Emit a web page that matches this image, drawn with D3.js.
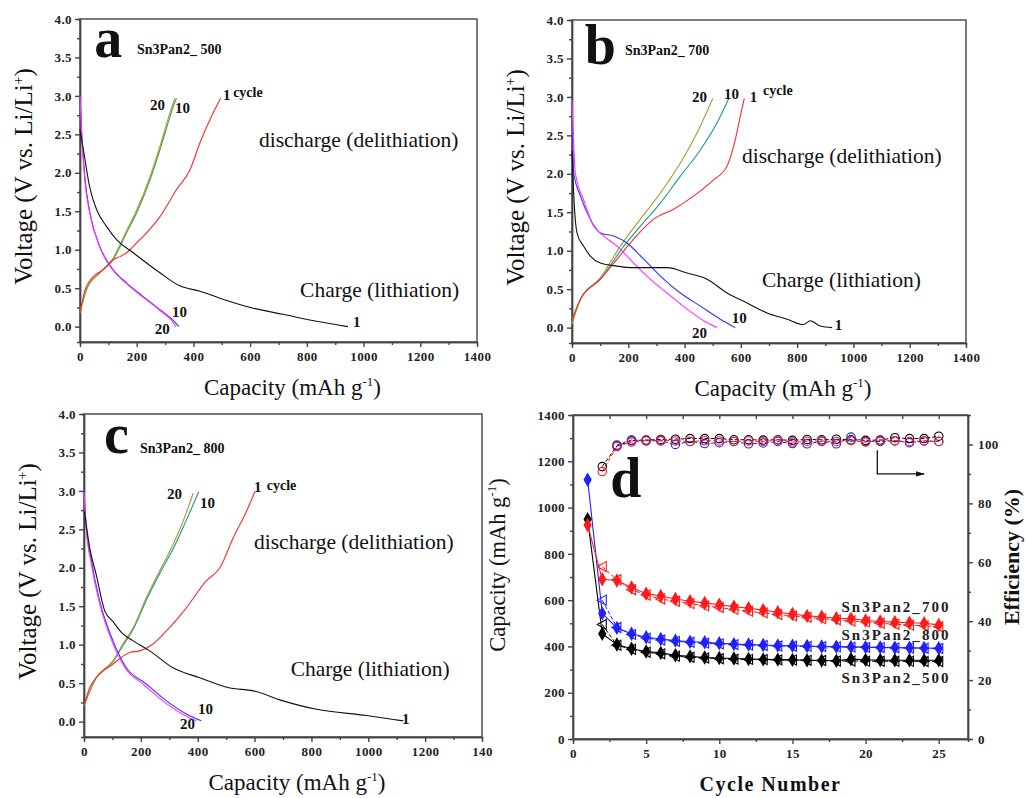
<!DOCTYPE html>
<html>
<head>
<meta charset="utf-8">
<script src="https://cdn.jsdelivr.net/npm/d3@7"></script>
<style>
  body { margin: 0; background: #fff; }
  svg text { font-family: "Liberation Serif", "DejaVu Serif", serif; }
  .tick text { font-weight: bold; font-size: 13px; fill: #222; letter-spacing: 0.4px; }
  .domain, .tick line { stroke: #444; stroke-width: 1.4; }
</style>
</head>
<body>
<svg id="fig" width="1027" height="798"></svg>
<script>
'use strict';

const SERIF = '"Liberation Serif", "DejaVu Serif", serif';

// ---- voltage profiles: [capacity mAh/g, voltage V] ----
// panel a, Sn3Pan2_500
const a_ch1 = [[0,2.56],[12,2.30],[35,1.80],[59,1.52],[94,1.30],[129,1.13],[188,0.96],[282,0.70],[352,0.53],[423,0.46],[493,0.37],[611,0.24],[716,0.16],[834,0.07],[945,0.0]];
const a_dis1 = [[0,0.18],[18,0.48],[47,0.65],[82,0.74],[117,0.87],[141,0.91],[164,0.96],[200,1.09],[235,1.22],[282,1.43],[340,1.78],[388,2.04],[423,2.39],[458,2.69],[496,2.97]];
const a_ch10 = [[0,3.0],[6,2.52],[18,1.91],[35,1.48],[70,1.04],[117,0.74],[164,0.57],[223,0.39],[282,0.22],[329,0.08],[348,0.0]];
const a_ch20 = [[0,3.0],[6,2.50],[17,1.90],[35,1.47],[70,1.03],[117,0.73],[164,0.56],[223,0.38],[282,0.21],[325,0.07],[338,0.0]];
const a_dis10 = [[0,0.18],[23,0.48],[70,0.70],[117,0.87],[141,1.04],[164,1.22],[200,1.48],[247,1.91],[282,2.30],[329,2.86],[340,2.97]];
const a_dis20 = [[0,0.18],[22,0.48],[68,0.70],[115,0.88],[139,1.05],[162,1.23],[198,1.50],[245,1.93],[280,2.32],[326,2.88],[335,2.97]];

// panel b, Sn3Pan2_700
const b_ch1 = [[0,2.3],[8,1.60],[18,1.23],[41,1.06],[65,0.93],[101,0.84],[160,0.80],[219,0.78],[338,0.78],[409,0.71],[480,0.63],[551,0.45],[622,0.32],[693,0.19],[764,0.11],[823,0.04],[847,0.09],[882,0.02],[924,0.0]];
const b_dis1 = [[0,0.11],[30,0.37],[101,0.63],[160,0.89],[219,1.15],[290,1.41],[361,1.54],[432,1.71],[503,1.92],[551,2.10],[580,2.44],[598,2.75],[612,2.98]];
const b_ch10 = [[0,2.96],[6,2.01],[30,1.71],[65,1.41],[101,1.23],[148,1.19],[195,1.10],[255,0.89],[314,0.67],[385,0.45],[456,0.28],[527,0.11],[580,0.0]];
const b_ch20 = [[0,2.96],[12,2.01],[41,1.66],[77,1.32],[113,1.19],[160,1.06],[219,0.84],[278,0.63],[338,0.45],[409,0.24],[468,0.09],[515,0.0]];
const b_dis10 = [[0,0.05],[30,0.37],[101,0.63],[184,1.06],[243,1.32],[314,1.62],[385,1.97],[456,2.31],[515,2.66],[557,2.98]];
const b_dis20 = [[0,0.05],[30,0.37],[101,0.65],[172,1.06],[243,1.41],[314,1.75],[385,2.14],[444,2.53],[500,2.98]];

// panel c, Sn3Pan2_800
const c_ch1 = [[2,2.73],[20,2.26],[43,1.91],[73,1.44],[102,1.30],[137,1.14],[173,1.05],[231,0.92],[313,0.70],[407,0.57],[510,0.44],[595,0.40],[700,0.27],[818,0.16],[994,0.08],[1123,0.01]];
const c_dis1 = [[0,0.21],[20,0.44],[43,0.57],[102,0.75],[161,0.90],[196,0.92],[243,1.01],[290,1.18],[360,1.48],[430,1.83],[478,2.0],[525,2.39],[571,2.73],[601,2.99]];
const c_ch10 = [[0,2.99],[8,2.52],[26,2.09],[55,1.57],[102,1.05],[149,0.70],[219,0.49],[290,0.27],[360,0.10],[413,0.01]];
const c_ch20 = [[0,2.99],[8,2.50],[25,2.07],[54,1.55],[100,1.03],[146,0.69],[214,0.47],[284,0.25],[350,0.09],[395,0.01]];
const c_dis10 = [[0,0.21],[43,0.57],[102,0.78],[137,0.99],[173,1.20],[222,1.60],[270,1.95],[318,2.28],[360,2.62],[404,2.99]];
const c_dis20 = [[0,0.21],[43,0.57],[102,0.79],[137,1.01],[173,1.22],[219,1.61],[266,1.96],[313,2.30],[348,2.60],[384,2.97]];

// ---- panel d: cycling ----
const cycles = [1,2,3,4,5,6,7,8,9,10,11,12,13,14,15,16,17,18,19,20,21,22,23,24,25];
const cyclesFrom2 = cycles.slice(1);
const cap500Fill = [950,455,408,390,378,372,362,357,352,350,348,346,344,343,342,340,339,338,345,342,341,340,340,340,340];
const cap500Open = [495,405,388,375,368,358,353,350,347,345,344,343,342,341,340,339,337,337,336,336,336,336,335,335];
const cap700Fill = [925,690,685,655,628,618,605,595,588,580,572,565,557,548,540,532,528,522,520,512,508,505,502,500,493];
const cap700Open = [745,688,645,622,605,595,585,575,568,560,552,545,538,532,526,520,515,510,506,500,496,492,489,485];
const cap800Fill = [1120,543,480,455,440,432,425,420,418,414,410,408,406,404,403,402,400,399,398,397,396,395,394,393,392];
const cap800Open = [600,482,452,436,428,422,418,414,411,408,406,404,402,401,400,399,398,397,396,395,394,393,392,391];
const eff500 = [92.5,99.5,101.3,101.5,101.7,101.8,102,102,102,101.6,101.6,101.5,101.6,101.4,101.7,101.6,101.8,101.6,101.4,101.5,102.3,102,102,102.8];
const eff700 = [90.8,99.3,100.8,101.2,101.4,101.2,101.0,101.3,101.2,101.0,101.2,101.0,101.5,100.8,101.0,101.2,101.0,101.3,100.8,101.3,101.2,101.0,101.2,101.0];
const eff800Cycles = cycles.slice(2);
const eff800 = [99.8,101.5,101.3,101.2,100,101,100.3,100.6,101,100.2,100.5,101,100.3,100.2,101,100.2,102.5,101,101,101.3,100.6,101.2,101];

// tick labels
const vTicks = [0,0.5,1,1.5,2,2.5,3,3.5,4];
const capTicks = [0,200,400,600,800,1000,1200,1400];
const cycTicks = [0,5,10,15,20,25];
const capDTicks = [0,200,400,600,800,1000,1200,1400];
const effTicks = [0,20,40,60,80,100];

const svg = d3.select('#fig');
svg.append('rect').attr('width', 1027).attr('height', 798).attr('fill', '#fff');

const lineGen = (x, y) => d3.line().x(d => x(d[0])).y(d => y(d[1])).curve(d3.curveMonotoneX);

function styleAxis(sel) {
  sel.attr('font-family', SERIF);
}

function voltagePanel(p) {
  const x = d3.scaleLinear().domain([0, 1400]).range([p.left, p.right]);
  const y = d3.scaleLinear().domain([-0.2, 4.0]).range([p.bottom, p.top]);
  const g = svg.append('g').attr('font-family', SERIF);

  // minor ticks
  g.append('g').attr('transform', `translate(0,${p.bottom})`)
    .call(d3.axisBottom(x).tickValues(d3.range(100, 1400, 200)).tickSize(3).tickFormat(''));
  g.append('g').attr('transform', `translate(${p.left},0)`)
    .call(d3.axisLeft(y).tickValues(d3.range(0.25, 4, 0.5)).tickSize(3).tickFormat(''));
  // major
  g.append('g').attr('transform', `translate(0,${p.bottom})`)
    .call(d3.axisBottom(x).tickValues(capTicks).tickSize(5).tickSizeOuter(0).tickPadding(5)
      .tickFormat((d, i) => p.xLabels ? p.xLabels[i] : d)).call(styleAxis);
  g.append('g').attr('transform', `translate(${p.left},0)`)
    .call(d3.axisLeft(y).tickValues(vTicks).tickSize(5).tickSizeOuter(0).tickPadding(3).tickFormat(d3.format('.1f'))).call(styleAxis);
  g.append('rect').attr('x', p.left).attr('y', p.top).attr('width', p.right - p.left).attr('height', p.bottom - p.top)
    .attr('fill', 'none').attr('stroke', '#444').attr('stroke-width', 1.4);

  const curves = [
    [p.dis10, p.tealTen ? '#1c9696' : '#3f9a55'], [p.dis20, '#a0a030'], [p.dis1, '#ff2a2a'],
    [p.ch10, '#3a2cff'], [p.ch20, '#ff30ff'], [p.ch1, '#111']
  ];
  curves.forEach(([data, col]) => {
    g.append('path').attr('d', lineGen(x, y)(data)).attr('fill', 'none').attr('stroke', col).attr('stroke-width', 1.1);
  });

  // texts
  const t = (cx, cv, s, size, weight) => g.append('text').attr('x', x(cx)).attr('y', y(cv)).attr('font-size', size)
    .attr('font-weight', weight || 'normal').attr('fill', '#111').text(s);
  t(p.letter[0], p.letter[1], p.letter[2], 56, 'bold');
  t(p.name[0], p.name[1], p.name[2], 14, 'bold');
  p.nums.forEach(n => t(n[0], n[1], n[2], 15, 'bold'));
  t(p.cyc[0], p.cyc[1], 'cycle', 14, 'bold');
  t(p.dis[0], p.dis[1], 'discharge (delithiation)', 21.5, 'normal');
  t(p.chg[0], p.chg[1], 'Charge (lithiation)', 21.5, 'normal');

  // axis titles
  const xt = g.append('text').attr('x', (p.left + p.right) / 2 + 14).attr('y', p.bottom + 53)
    .attr('text-anchor', 'middle').attr('font-size', 23).attr('fill', '#111');
  xt.append('tspan').text('Capacity (mAh g');
  xt.append('tspan').attr('dy', -9).attr('font-size', 13).text('-1');
  xt.append('tspan').attr('dy', 9).text(')');

  const yt = g.append('text').attr('transform', `translate(${p.left - 48},${(p.top + p.bottom) / 2 - 4}) rotate(-90)`)
    .attr('text-anchor', 'middle').attr('font-size', 25).attr('fill', '#111');
  yt.append('tspan').text('Voltage (V vs. Li/Li');
  yt.append('tspan').attr('dy', -9).attr('font-size', 14).text('+');
  yt.append('tspan').attr('dy', 9).text(')');
}

voltagePanel({
  left: 80, right: 477, top: 19, bottom: 342,
  ch1: a_ch1, dis1: a_dis1, ch10: a_ch10, ch20: a_ch20, dis10: a_dis10, dis20: a_dis20,
  letter: [50, 3.50, 'a'], name: [201, 3.54, 'Sn3Pan2_ 500'],
  nums: [[247, 2.82, '20'], [335, 2.78, '10'], [504, 2.95, '1'], [324, 0.12, '10'], [264, -0.10, '20'], [963, -0.01, '1']],
  cyc: [540, 2.99], dis: [631, 2.33], chg: [776, 0.38]
});
voltagePanel({
  left: 572, right: 966, top: 20, bottom: 343, tealTen: true,
  ch1: b_ch1, dis1: b_dis1, ch10: b_ch10, ch20: b_ch20, dis10: b_dis10, dis20: b_dis20,
  letter: [45, 3.43, 'b'], name: [188, 3.55, 'Sn3Pan2_ 700'],
  nums: [[426, 2.94, '20'], [540, 2.97, '10'], [632, 2.94, '1'], [568, 0.06, '10'], [426, -0.14, '20'], [934, -0.03, '1']],
  cyc: [679, 3.03], dis: [604, 2.14], chg: [675, 0.53]
});
voltagePanel({
  left: 84, right: 482, top: 414, bottom: 737, tealTen: true,
  ch1: c_ch1, dis1: c_dis1, ch10: c_ch10, ch20: c_ch20, dis10: c_dis10, dis20: c_dis20,
  xLabels: ['0', '200', '400', '600', '800', '1000', '1200', '140'],
  letter: [70, 3.49, 'c'], name: [197, 3.49, 'Sn3Pan2_ 800'],
  nums: [[292, 2.90, '20'], [408, 2.78, '10'], [598, 2.98, '1'], [401, 0.10, '10'], [338, -0.09, '20'], [1119, -0.03, '1']],
  cyc: [643, 3.01], dis: [598, 2.24], chg: [727, 0.59]
});

// ---- panel d ----
(function () {
  const L = 573, R = 968, T = 415, B = 739;
  const x = d3.scaleLinear().domain([0, 27]).range([L, R]);
  const y = d3.scaleLinear().domain([0, 1400]).range([B, T]);
  const y2 = d3.scaleLinear().domain([0, 110]).range([B, T]);
  const g = svg.append('g').attr('font-family', SERIF);

  g.append('g').attr('transform', `translate(0,${B})`)
    .call(d3.axisBottom(x).tickValues([2.5, 7.5, 12.5, 17.5, 22.5]).tickSize(3).tickFormat(''));
  g.append('g').attr('transform', `translate(0,${T})`)
    .call(d3.axisBottom(x).tickValues([2.5, 5, 7.5, 10, 12.5, 15, 17.5, 20, 22.5, 25]).tickSize(4).tickSizeOuter(0).tickFormat(''));
  g.append('g').attr('transform', `translate(${L},0)`)
    .call(d3.axisLeft(y).tickValues(d3.range(100, 1400, 200)).tickSize(3).tickFormat(''));
  g.append('g').attr('transform', `translate(${R},0)`)
    .call(d3.axisRight(y2).tickValues([10, 30, 50, 70, 90]).tickSize(3).tickFormat(''));
  g.append('g').attr('transform', `translate(0,${B})`)
    .call(d3.axisBottom(x).tickValues(cycTicks).tickSize(5).tickSizeOuter(0).tickPadding(5).tickFormat(d3.format('d'))).call(styleAxis);
  g.append('g').attr('transform', `translate(${L},0)`)
    .call(d3.axisLeft(y).tickValues(capDTicks).tickSize(5).tickSizeOuter(0).tickPadding(3).tickFormat(d3.format('d'))).call(styleAxis);
  g.append('g').attr('transform', `translate(${R},0)`)
    .call(d3.axisRight(y2).tickValues(effTicks).tickSize(5).tickSizeOuter(0).tickPadding(5).tickFormat(d3.format('d'))).call(styleAxis);
  g.append('rect').attr('x', L).attr('y', T).attr('width', R - L).attr('height', B - T)
    .attr('fill', 'none').attr('stroke', '#444').attr('stroke-width', 1.4);

  const lin = (yy) => d3.line().x(d => x(d[0])).y(d => yy(d[1]));
  const zip = (xs, ys) => xs.map((c, i) => [c, ys[i]]);
  const diamond = d3.symbol().type(d3.symbolDiamond).size(60);
  const triPath = 'M-5,0L4,-5L4,5Z';

  const sets = [
    { col: '#000', fill: cap500Fill, open: cap500Open, eff: zip(cyclesFrom2, eff500) },
    { col: '#2020ff', fill: cap800Fill, open: cap800Open, eff: zip(eff800Cycles, eff800) },
    { col: '#ff1a1a', fill: cap700Fill, open: cap700Open, eff: zip(cyclesFrom2, eff700) }
  ];

  sets.forEach(s => {
    const f = zip(cycles, s.fill), o = zip(cyclesFrom2, s.open);
    g.append('path').attr('d', lin(y)(o)).attr('fill', 'none').attr('stroke', s.col).attr('stroke-width', 1).attr('stroke-dasharray', '4,2');
    g.append('path').attr('d', lin(y)(f)).attr('fill', 'none').attr('stroke', s.col).attr('stroke-width', 1.1);
    g.append('path').attr('d', lin(y2)(s.eff)).attr('fill', 'none').attr('stroke', s.col).attr('stroke-width', 1).attr('stroke-dasharray', '4,2');
  });
  sets.forEach(s => {
    const f = zip(cycles, s.fill), o = zip(cyclesFrom2, s.open);
    g.selectAll(null).data(o).enter().append('path')
      .attr('transform', d => `translate(${x(d[0])},${y(d[1])})`).attr('d', triPath)
      .attr('fill', 'none').attr('stroke', s.col).attr('stroke-width', 1.1);
    g.selectAll(null).data(f).enter().append('path')
      .attr('transform', d => `translate(${x(d[0])},${y(d[1])})`).attr('d', diamond)
      .attr('fill', s.col);
    g.selectAll(null).data(s.eff).enter().append('circle')
      .attr('cx', d => x(d[0])).attr('cy', d => y2(d[1])).attr('r', 4.2)
      .attr('fill', 'none').attr('stroke', s.col).attr('stroke-width', 1.1);
  });

  // arrow to right axis
  svg.append('defs').append('marker').attr('id', 'ah').attr('viewBox', '0 0 10 10').attr('refX', 9).attr('refY', 5)
    .attr('markerWidth', 7).attr('markerHeight', 7).attr('orient', 'auto')
    .append('path').attr('d', 'M0,2L10,5L0,8Z').attr('fill', '#111');
  g.append('path').attr('d', `M${x(20.8)},${y2(98)}V${y2(90)}H${x(24.0)}`)
    .attr('fill', 'none').attr('stroke', '#111').attr('stroke-width', 1.3).attr('marker-end', 'url(#ah)');

  g.append('text').attr('x', x(2.55)).attr('y', y(1046)).attr('font-size', 56).attr('font-weight', 'bold').attr('fill', '#111').text('d');
  [['Sn3Pan2_700', 549], ['Sn3Pan2_800', 428], ['Sn3Pan2_500', 242]].forEach(([s, v]) => {
    g.append('text').attr('x', x(18.35)).attr('y', y(v)).attr('font-size', 15).attr('font-weight', 'bold')
      .attr('textLength', 107).attr('lengthAdjust', 'spacing').attr('fill', '#222').text(s);
  });

  g.append('text').attr('x', (L + R) / 2).attr('y', 791).attr('text-anchor', 'middle').attr('font-size', 20)
    .attr('font-weight', 'bold').attr('letter-spacing', 1.5).attr('fill', '#111').text('Cycle Number');

  const yt = g.append('text').attr('transform', `translate(${L - 68},${(T + B) / 2 - 12}) rotate(-90)`)
    .attr('text-anchor', 'middle').attr('font-size', 22.5).attr('fill', '#111');
  yt.append('tspan').text('Capacity (mAh g');
  yt.append('tspan').attr('dy', -9).attr('font-size', 13).text('-1');
  yt.append('tspan').attr('dy', 9).text(')');

  g.append('text').attr('transform', `translate(${R + 51},${(T + B) / 2 - 20}) rotate(-90)`)
    .attr('text-anchor', 'middle').attr('font-size', 22).attr('font-weight', 'bold').attr('fill', '#111').text('Efficiency (%)');
})();
</script>
</body>
</html>
